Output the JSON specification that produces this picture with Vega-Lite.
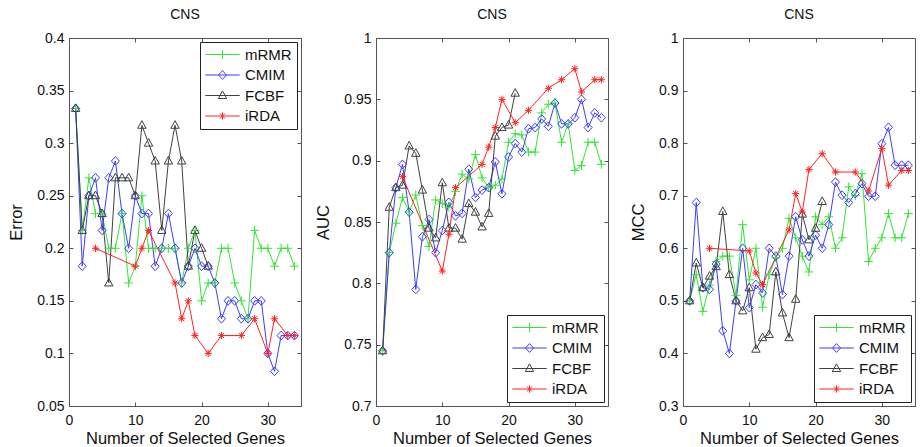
{
"$schema": "https://vega.github.io/schema/vega-lite/v6.json",
"padding": {"left": 8, "top": 7, "right": 0, "bottom": 0},
"background": "white",
"datasets": {"d": [
{"p":"E","x":1,"mRMR":0.333,"CMIM":0.333,"FCBF":0.333},
{"p":"E","x":2,"mRMR":0.217,"CMIM":0.183,"FCBF":0.217},
{"p":"E","x":3,"mRMR":0.267,"CMIM":0.25,"FCBF":0.25},
{"p":"E","x":4,"mRMR":0.233,"CMIM":0.267,"FCBF":0.25,"iRDA":0.2},
{"p":"E","x":5,"mRMR":0.233,"CMIM":0.217,"FCBF":0.233},
{"p":"E","x":6,"mRMR":0.2,"CMIM":0.267,"FCBF":0.167},
{"p":"E","x":7,"mRMR":0.2,"CMIM":0.283,"FCBF":0.267},
{"p":"E","x":8,"mRMR":0.233,"CMIM":0.233,"FCBF":0.267},
{"p":"E","x":9,"mRMR":0.167,"CMIM":0.2,"FCBF":0.267},
{"p":"E","x":10,"mRMR":0.183,"CMIM":0.25,"FCBF":0.25,"iRDA":0.183},
{"p":"E","x":11,"mRMR":0.25,"CMIM":0.233,"FCBF":0.317,"iRDA":0.2},
{"p":"E","x":12,"mRMR":0.2,"CMIM":0.233,"FCBF":0.3,"iRDA":0.217},
{"p":"E","x":13,"mRMR":0.2,"CMIM":0.183,"FCBF":0.283},
{"p":"E","x":14,"mRMR":0.2,"CMIM":0.2,"FCBF":0.217},
{"p":"E","x":15,"mRMR":0.2,"CMIM":0.233,"FCBF":0.283},
{"p":"E","x":16,"mRMR":0.2,"CMIM":0.2,"FCBF":0.317,"iRDA":0.167},
{"p":"E","x":17,"mRMR":0.167,"CMIM":0.167,"FCBF":0.283,"iRDA":0.133},
{"p":"E","x":18,"mRMR":0.2,"CMIM":0.183,"FCBF":0.183,"iRDA":0.15},
{"p":"E","x":19,"mRMR":0.217,"CMIM":0.2,"FCBF":0.217,"iRDA":0.117},
{"p":"E","x":20,"mRMR":0.15,"CMIM":0.183,"FCBF":0.2},
{"p":"E","x":21,"mRMR":0.167,"CMIM":0.183,"FCBF":0.183,"iRDA":0.1},
{"p":"E","x":22,"mRMR":0.167,"CMIM":0.167},
{"p":"E","x":23,"mRMR":0.2,"CMIM":0.133,"iRDA":0.117},
{"p":"E","x":24,"mRMR":0.2,"CMIM":0.15},
{"p":"E","x":25,"mRMR":0.167,"CMIM":0.15},
{"p":"E","x":26,"mRMR":0.15,"CMIM":0.133,"iRDA":0.117},
{"p":"E","x":27,"mRMR":0.133,"CMIM":0.133},
{"p":"E","x":28,"mRMR":0.217,"CMIM":0.15,"iRDA":0.133},
{"p":"E","x":29,"mRMR":0.2,"CMIM":0.15},
{"p":"E","x":30,"mRMR":0.2,"CMIM":0.1,"iRDA":0.1},
{"p":"E","x":31,"mRMR":0.183,"CMIM":0.083,"iRDA":0.133},
{"p":"E","x":32,"mRMR":0.2,"CMIM":0.117},
{"p":"E","x":33,"mRMR":0.2,"CMIM":0.117,"iRDA":0.117},
{"p":"E","x":34,"mRMR":0.183,"CMIM":0.117,"iRDA":0.117},
{"p":"A","x":1,"mRMR":0.745,"CMIM":0.745,"FCBF":0.745},
{"p":"A","x":2,"mRMR":0.825,"CMIM":0.825,"FCBF":0.862},
{"p":"A","x":3,"mRMR":0.849,"CMIM":0.878,"FCBF":0.878},
{"p":"A","x":4,"mRMR":0.87,"CMIM":0.897,"FCBF":0.88,"iRDA":0.887},
{"p":"A","x":5,"mRMR":0.858,"CMIM":0.858,"FCBF":0.912},
{"p":"A","x":6,"mRMR":0.872,"CMIM":0.795,"FCBF":0.906},
{"p":"A","x":7,"mRMR":0.847,"CMIM":0.838,"FCBF":0.876},
{"p":"A","x":8,"mRMR":0.83,"CMIM":0.852,"FCBF":0.845},
{"p":"A","x":9,"mRMR":0.868,"CMIM":0.825,"FCBF":0.837},
{"p":"A","x":10,"mRMR":0.865,"CMIM":0.843,"FCBF":0.882,"iRDA":0.81},
{"p":"A","x":11,"mRMR":0.862,"CMIM":0.866,"FCBF":0.845,"iRDA":0.84},
{"p":"A","x":12,"mRMR":0.875,"CMIM":0.855,"FCBF":0.845,"iRDA":0.878},
{"p":"A","x":13,"mRMR":0.889,"CMIM":0.857,"FCBF":0.836},
{"p":"A","x":14,"mRMR":0.885,"CMIM":0.893,"FCBF":0.865},
{"p":"A","x":15,"mRMR":0.905,"CMIM":0.87,"FCBF":0.858},
{"p":"A","x":16,"mRMR":0.886,"CMIM":0.876,"FCBF":0.846,"iRDA":0.897},
{"p":"A","x":17,"mRMR":0.878,"CMIM":0.878,"FCBF":0.857,"iRDA":0.911},
{"p":"A","x":18,"mRMR":0.88,"CMIM":0.899,"FCBF":0.92,"iRDA":0.927},
{"p":"A","x":19,"mRMR":0.885,"CMIM":0.873,"FCBF":0.927,"iRDA":0.95},
{"p":"A","x":20,"mRMR":0.915,"CMIM":0.903,"FCBF":0.929},
{"p":"A","x":21,"mRMR":0.922,"CMIM":0.914,"FCBF":0.955,"iRDA":0.931},
{"p":"A","x":22,"mRMR":0.921,"CMIM":0.907},
{"p":"A","x":23,"mRMR":0.907,"CMIM":0.926,"iRDA":0.941},
{"p":"A","x":24,"mRMR":0.907,"CMIM":0.927},
{"p":"A","x":25,"mRMR":0.939,"CMIM":0.934},
{"p":"A","x":26,"mRMR":0.946,"CMIM":0.928,"iRDA":0.959},
{"p":"A","x":27,"mRMR":0.947,"CMIM":0.947},
{"p":"A","x":28,"mRMR":0.915,"CMIM":0.93,"iRDA":0.966},
{"p":"A","x":29,"mRMR":0.93,"CMIM":0.93},
{"p":"A","x":30,"mRMR":0.892,"CMIM":0.935,"iRDA":0.975},
{"p":"A","x":31,"mRMR":0.896,"CMIM":0.95,"iRDA":0.956},
{"p":"A","x":32,"mRMR":0.915,"CMIM":0.927},
{"p":"A","x":33,"mRMR":0.915,"CMIM":0.939,"iRDA":0.966},
{"p":"A","x":34,"mRMR":0.897,"CMIM":0.935,"iRDA":0.966},
{"p":"M","x":1,"mRMR":0.5,"CMIM":0.5,"FCBF":0.5},
{"p":"M","x":2,"mRMR":0.55,"CMIM":0.687,"FCBF":0.572},
{"p":"M","x":3,"mRMR":0.48,"CMIM":0.525,"FCBF":0.525},
{"p":"M","x":4,"mRMR":0.53,"CMIM":0.522,"FCBF":0.547,"iRDA":0.6},
{"p":"M","x":5,"mRMR":0.575,"CMIM":0.57,"FCBF":0.565},
{"p":"M","x":6,"mRMR":0.585,"CMIM":0.443,"FCBF":0.67},
{"p":"M","x":7,"mRMR":0.585,"CMIM":0.4,"FCBF":0.55},
{"p":"M","x":8,"mRMR":0.51,"CMIM":0.5,"FCBF":0.5},
{"p":"M","x":9,"mRMR":0.645,"CMIM":0.6,"FCBF":0.481},
{"p":"M","x":10,"mRMR":0.54,"CMIM":0.487,"FCBF":0.525,"iRDA":0.595},
{"p":"M","x":11,"mRMR":0.6,"CMIM":0.531,"FCBF":0.408,"iRDA":0.553},
{"p":"M","x":12,"mRMR":0.488,"CMIM":0.515,"FCBF":0.43,"iRDA":0.531},
{"p":"M","x":13,"mRMR":0.55,"CMIM":0.6,"FCBF":0.436},
{"p":"M","x":14,"mRMR":0.582,"CMIM":0.585,"FCBF":0.555},
{"p":"M","x":15,"mRMR":0.6,"CMIM":0.512,"FCBF":0.477},
{"p":"M","x":16,"mRMR":0.657,"CMIM":0.585,"FCBF":0.43,"iRDA":0.635},
{"p":"M","x":17,"mRMR":0.62,"CMIM":0.66,"FCBF":0.503,"iRDA":0.704},
{"p":"M","x":18,"mRMR":0.585,"CMIM":0.616,"FCBF":0.665,"iRDA":0.669},
{"p":"M","x":19,"mRMR":0.555,"CMIM":0.585,"FCBF":0.616,"iRDA":0.75},
{"p":"M","x":20,"mRMR":0.66,"CMIM":0.625,"FCBF":0.638},
{"p":"M","x":21,"mRMR":0.645,"CMIM":0.6,"FCBF":0.689,"iRDA":0.78},
{"p":"M","x":22,"mRMR":0.66,"CMIM":0.645},
{"p":"M","x":23,"mRMR":0.6,"CMIM":0.726,"iRDA":0.745},
{"p":"M","x":24,"mRMR":0.62,"CMIM":0.701},
{"p":"M","x":25,"mRMR":0.717,"CMIM":0.687},
{"p":"M","x":26,"mRMR":0.7,"CMIM":0.704,"iRDA":0.745},
{"p":"M","x":27,"mRMR":0.742,"CMIM":0.723},
{"p":"M","x":28,"mRMR":0.575,"CMIM":0.699,"iRDA":0.709},
{"p":"M","x":29,"mRMR":0.6,"CMIM":0.699},
{"p":"M","x":30,"mRMR":0.62,"CMIM":0.799,"iRDA":0.79},
{"p":"M","x":31,"mRMR":0.666,"CMIM":0.83,"iRDA":0.72},
{"p":"M","x":32,"mRMR":0.62,"CMIM":0.758},
{"p":"M","x":33,"mRMR":0.62,"CMIM":0.758,"iRDA":0.748},
{"p":"M","x":34,"mRMR":0.666,"CMIM":0.758,"iRDA":0.748}
]},
"data": {"name": "d"},
"transform": [
  {"fold": ["mRMR", "CMIM", "FCBF", "iRDA"], "as": ["s", "v"]},
  {"filter": "isValid(datum.v)"}
],
"spacing": 75,
"bounds": "flush",
"resolve": {"legend": {"color": "independent"}},
"hconcat": [
{
  "width": 232, "height": 368,
  "title": "CNS",
  "transform": [{"filter": "datum.p === 'E'"}],
  "encoding": {
    "color": {"field": "s", "type": "nominal", "scale": {"domain": ["mRMR", "CMIM", "FCBF", "iRDA"], "range": ["#33e633", "#3d3dff", "#404040", "#ff2222"]},
      "legend": {"title": null, "orient": "top-right", "encode": {"symbols": {"update": {
        "shape": {"signal": "datum.value === 'mRMR' ? 'M-4.3,0L4.3,0M-1.1,0L1.1,0M0,-1.1L0,1.1' : datum.value === 'CMIM' ? 'M-4.3,0L4.3,0M0,-1.1L1,0L0,1.1L-1,0Z' : datum.value === 'FCBF' ? 'M-4.3,0L4.3,0M0,-1.15L1.05,0.75L-1.05,0.75Z' : 'M-4.3,0L4.3,0M0,-0.9L0,0.9M-0.64,-0.64L0.64,0.64M-0.64,0.64L0.64,-0.64'"},
        "stroke": {"signal": "datum.value === 'mRMR' ? '#33e633' : datum.value === 'CMIM' ? '#3d3dff' : datum.value === 'FCBF' ? '#404040' : '#ff2222'"},
        "fill": {"value": "transparent"},
        "strokeWidth": {"value": 1},
        "opacity": {"value": 1}}}}}}
  },
  "layer": [
    {"mark": {"type": "line", "strokeWidth": 1},
     "encoding": {
       "x": {"field": "x", "type": "quantitative", "scale": {"domain": [0, 35], "nice": false, "zero": false}, "axis": {"values": [0, 10, 20, 30], "title": "Number of Selected Genes"}},
       "y": {"field": "v", "type": "quantitative", "scale": {"domain": [0.05, 0.4], "nice": false, "zero": false}, "axis": {"values": [0.05, 0.1, 0.15, 0.2, 0.25, 0.3, 0.35, 0.4], "format": "~g", "title": "Error"}}}},
    {"mark": {"type": "point", "filled": false, "size": 64, "strokeWidth": 1, "opacity": 1},
     "encoding": {
       "x": {"field": "x", "type": "quantitative", "scale": {"domain": [0, 35], "nice": false, "zero": false}, "axis": {"orient": "top", "values": [0, 10, 20, 30], "labels": false, "domain": false, "title": null}},
       "y": {"field": "v", "type": "quantitative", "scale": {"domain": [0.05, 0.4], "nice": false, "zero": false}, "axis": {"orient": "right", "values": [0.05, 0.1, 0.15, 0.2, 0.25, 0.3, 0.35, 0.4], "labels": false, "domain": false, "title": null}},
       "shape": {"field": "s", "type": "nominal", "legend": null, "scale": {"domain": ["mRMR", "CMIM", "FCBF", "iRDA"], "range": ["M-1.1,0L1.1,0M0,-1.1L0,1.1", "M0,-1.1L1,0L0,1.1L-1,0Z", "M0,-1.15L1.05,0.75L-1.05,0.75Z", "M0,-0.9L0,0.9M-0.9,0L0.9,0M-0.64,-0.64L0.64,0.64M-0.64,0.64L0.64,-0.64"]}}}}
  ],
  "resolve": {"axis": {"x": "independent", "y": "independent"}}
},
{
  "width": 232, "height": 368,
  "title": "CNS",
  "transform": [{"filter": "datum.p === 'A'"}],
  "encoding": {
    "color": {"field": "s", "type": "nominal", "scale": {"domain": ["mRMR", "CMIM", "FCBF", "iRDA"], "range": ["#33e633", "#3d3dff", "#404040", "#ff2222"]},
      "legend": {"title": null, "orient": "bottom-right", "encode": {"symbols": {"update": {
        "shape": {"signal": "datum.value === 'mRMR' ? 'M-4.3,0L4.3,0M-1.1,0L1.1,0M0,-1.1L0,1.1' : datum.value === 'CMIM' ? 'M-4.3,0L4.3,0M0,-1.1L1,0L0,1.1L-1,0Z' : datum.value === 'FCBF' ? 'M-4.3,0L4.3,0M0,-1.15L1.05,0.75L-1.05,0.75Z' : 'M-4.3,0L4.3,0M0,-0.9L0,0.9M-0.64,-0.64L0.64,0.64M-0.64,0.64L0.64,-0.64'"},
        "stroke": {"signal": "datum.value === 'mRMR' ? '#33e633' : datum.value === 'CMIM' ? '#3d3dff' : datum.value === 'FCBF' ? '#404040' : '#ff2222'"},
        "fill": {"value": "transparent"},
        "strokeWidth": {"value": 1},
        "opacity": {"value": 1}}}}}}
  },
  "layer": [
    {"mark": {"type": "line", "strokeWidth": 1},
     "encoding": {
       "x": {"field": "x", "type": "quantitative", "scale": {"domain": [0, 35], "nice": false, "zero": false}, "axis": {"values": [0, 10, 20, 30], "title": "Number of Selected Genes"}},
       "y": {"field": "v", "type": "quantitative", "scale": {"domain": [0.7, 1], "nice": false, "zero": false}, "axis": {"values": [0.7, 0.75, 0.8, 0.85, 0.9, 0.95, 1], "format": "~g", "title": "AUC"}}}},
    {"mark": {"type": "point", "filled": false, "size": 64, "strokeWidth": 1, "opacity": 1},
     "encoding": {
       "x": {"field": "x", "type": "quantitative", "scale": {"domain": [0, 35], "nice": false, "zero": false}, "axis": {"orient": "top", "values": [0, 10, 20, 30], "labels": false, "domain": false, "title": null}},
       "y": {"field": "v", "type": "quantitative", "scale": {"domain": [0.7, 1], "nice": false, "zero": false}, "axis": {"orient": "right", "values": [0.7, 0.75, 0.8, 0.85, 0.9, 0.95, 1], "labels": false, "domain": false, "title": null}},
       "shape": {"field": "s", "type": "nominal", "legend": null, "scale": {"domain": ["mRMR", "CMIM", "FCBF", "iRDA"], "range": ["M-1.1,0L1.1,0M0,-1.1L0,1.1", "M0,-1.1L1,0L0,1.1L-1,0Z", "M0,-1.15L1.05,0.75L-1.05,0.75Z", "M0,-0.9L0,0.9M-0.9,0L0.9,0M-0.64,-0.64L0.64,0.64M-0.64,0.64L0.64,-0.64"]}}}}
  ],
  "resolve": {"axis": {"x": "independent", "y": "independent"}}
},
{
  "width": 232, "height": 368,
  "title": "CNS",
  "transform": [{"filter": "datum.p === 'M'"}],
  "encoding": {
    "color": {"field": "s", "type": "nominal", "scale": {"domain": ["mRMR", "CMIM", "FCBF", "iRDA"], "range": ["#33e633", "#3d3dff", "#404040", "#ff2222"]},
      "legend": {"title": null, "orient": "bottom-right", "encode": {"symbols": {"update": {
        "shape": {"signal": "datum.value === 'mRMR' ? 'M-4.3,0L4.3,0M-1.1,0L1.1,0M0,-1.1L0,1.1' : datum.value === 'CMIM' ? 'M-4.3,0L4.3,0M0,-1.1L1,0L0,1.1L-1,0Z' : datum.value === 'FCBF' ? 'M-4.3,0L4.3,0M0,-1.15L1.05,0.75L-1.05,0.75Z' : 'M-4.3,0L4.3,0M0,-0.9L0,0.9M-0.64,-0.64L0.64,0.64M-0.64,0.64L0.64,-0.64'"},
        "stroke": {"signal": "datum.value === 'mRMR' ? '#33e633' : datum.value === 'CMIM' ? '#3d3dff' : datum.value === 'FCBF' ? '#404040' : '#ff2222'"},
        "fill": {"value": "transparent"},
        "strokeWidth": {"value": 1},
        "opacity": {"value": 1}}}}}}
  },
  "layer": [
    {"mark": {"type": "line", "strokeWidth": 1},
     "encoding": {
       "x": {"field": "x", "type": "quantitative", "scale": {"domain": [0, 35], "nice": false, "zero": false}, "axis": {"values": [0, 10, 20, 30], "title": "Number of Selected Genes"}},
       "y": {"field": "v", "type": "quantitative", "scale": {"domain": [0.3, 1], "nice": false, "zero": false}, "axis": {"values": [0.3, 0.4, 0.5, 0.6, 0.7, 0.8, 0.9, 1], "format": "~g", "title": "MCC"}}}},
    {"mark": {"type": "point", "filled": false, "size": 64, "strokeWidth": 1, "opacity": 1},
     "encoding": {
       "x": {"field": "x", "type": "quantitative", "scale": {"domain": [0, 35], "nice": false, "zero": false}, "axis": {"orient": "top", "values": [0, 10, 20, 30], "labels": false, "domain": false, "title": null}},
       "y": {"field": "v", "type": "quantitative", "scale": {"domain": [0.3, 1], "nice": false, "zero": false}, "axis": {"orient": "right", "values": [0.3, 0.4, 0.5, 0.6, 0.7, 0.8, 0.9, 1], "labels": false, "domain": false, "title": null}},
       "shape": {"field": "s", "type": "nominal", "legend": null, "scale": {"domain": ["mRMR", "CMIM", "FCBF", "iRDA"], "range": ["M-1.1,0L1.1,0M0,-1.1L0,1.1", "M0,-1.1L1,0L0,1.1L-1,0Z", "M0,-1.15L1.05,0.75L-1.05,0.75Z", "M0,-0.9L0,0.9M-0.9,0L0.9,0M-0.64,-0.64L0.64,0.64M-0.64,0.64L0.64,-0.64"]}}}}
  ],
  "resolve": {"axis": {"x": "independent", "y": "independent"}}
}
],
"config": {
  "font": "Liberation Sans",
  "view": {"stroke": "#555", "strokeWidth": 1},
  "axis": {"grid": false, "domainColor": "#555", "tickColor": "#555", "tickSize": -4, "labelFontSize": 14, "titleFontSize": 16.5, "titleFontWeight": "normal", "labelColor": "#111", "titleColor": "#111", "labelFlush": false, "labelOverlap": false},
  "axisX": {"labelPadding": 11, "titlePadding": 3},
  "axisY": {"labelPadding": 9, "titlePadding": 12},
  "title": {"fontSize": 14, "fontWeight": "normal", "offset": 9, "color": "#111"},
  "legend": {"labelFontSize": 15, "labelColor": "#111", "symbolSize": 64, "symbolOffset": 10, "labelOffset": 15, "rowPadding": 4.5, "padding": 5, "offset": 4, "strokeColor": "#222", "fillColor": "white"}
}
}
